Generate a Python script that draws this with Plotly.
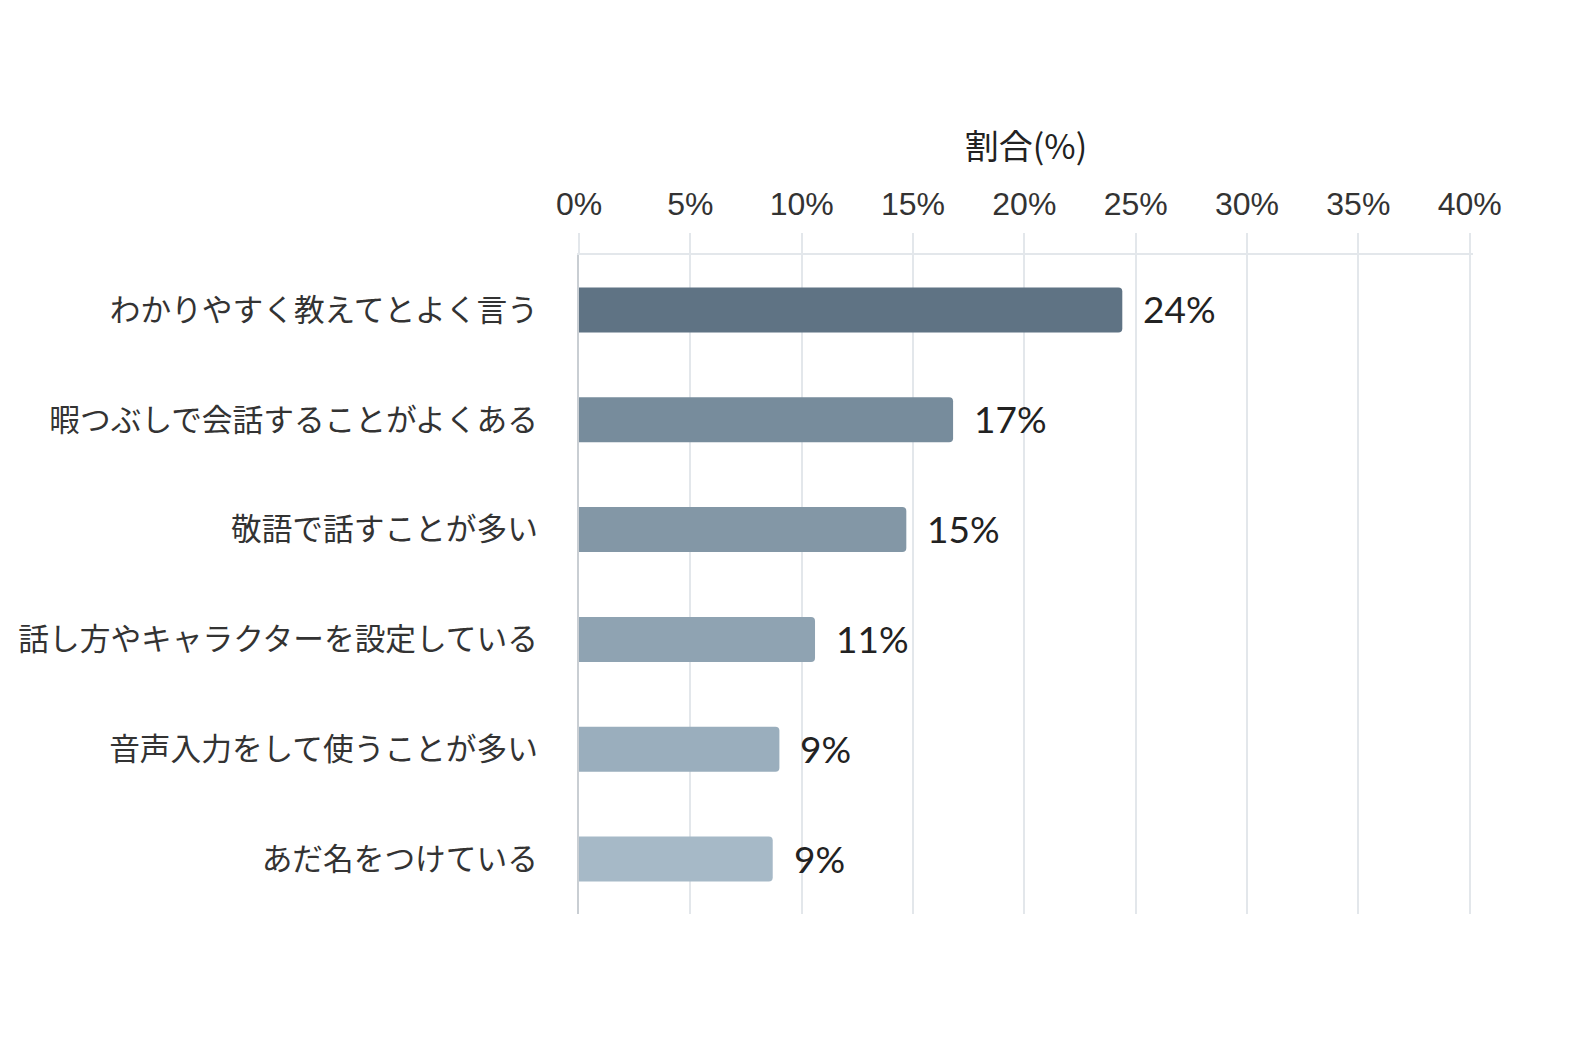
import plotly.graph_objects as go

categories = [
    "わかりやすく教えてとよく言う",
    "暇つぶしで会話することがよくある",
    "敬語で話すことが多い",
    "話し方やキャラクターを設定している",
    "音声入力をして使うことが多い",
    "あだ名をつけている",
]
values = [24.4, 16.8, 14.7, 10.6, 9.0, 8.7]
value_labels = ["24%", "17%", "15%", "11%", "9%", "9%"]
bar_colors = ["#5f7384", "#778c9c", "#8397a6", "#8fa3b2", "#9aaebd", "#a6b9c7"]
x_ticks = [0, 5, 10, 15, 20, 25, 30, 35, 40]
x_tick_labels = [f"{t}%" for t in x_ticks]

grid_color = "#e3e7eb"

fig = go.Figure()
fig.add_trace(go.Bar(
    x=values,
    y=categories,
    orientation="h",
    marker=dict(color=bar_colors, line=dict(width=0)),
    hoverinfo="skip",
))

for v, c, lab in zip(values, categories, value_labels):
    fig.add_annotation(
        x=v, y=c, text=lab, showarrow=False,
        xanchor="left", yanchor="middle", xshift=19, yshift=1,
        font=dict(family="Lato, sans-serif", size=37, color="#222222"),
    )

fig.update_layout(
    width=1570, height=1046,
    margin=dict(l=571, r=105, t=247, b=140, autoexpand=False),
    paper_bgcolor="white",
    plot_bgcolor="white",
    bargap=0.59,
    barcornerradius=4,
    showlegend=False,
    xaxis=dict(
        side="top",
        automargin=False,
        range=[0, 40.15],
        tickvals=x_ticks,
        ticktext=x_tick_labels,
        showgrid=True,
        gridcolor=grid_color,
        gridwidth=2,
        zeroline=False,
        showline=True,
        linecolor=grid_color,
        linewidth=2,
        ticks="outside",
        ticklen=20,
        tickwidth=2,
        tickcolor=grid_color,
        ticklabelstandoff=5,
        tickfont=dict(family="Liberation Sans, Arial, sans-serif", size=32, color="#333333"),
        title=dict(text="割合(%)", standoff=16,
                   font=dict(family="Noto Sans CJK JP, sans-serif", size=34, color="#222222")),
        fixedrange=True,
    ),
    yaxis=dict(
        autorange="reversed",
        automargin=False,
        showgrid=False,
        zeroline=False,
        showline=True,
        linecolor="#c9ced3",
        linewidth=2,
        ticks="",
        ticklabelstandoff=33,
        tickfont=dict(family="Noto Sans CJK JP, sans-serif", size=30.7, color="#333333"),
        fixedrange=True,
    ),
)

fig.write_html("out.html")
